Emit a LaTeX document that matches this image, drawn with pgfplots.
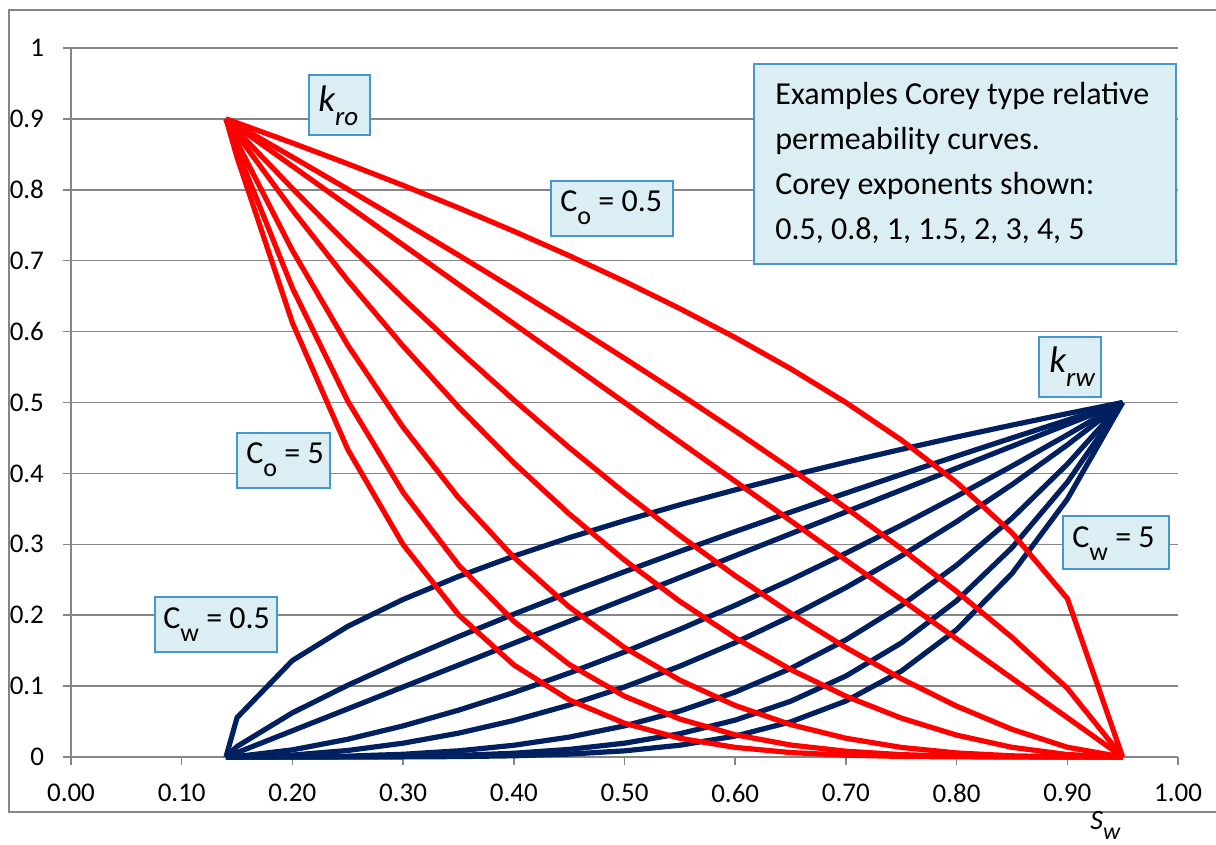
\documentclass[border=0pt]{standalone}
\usepackage{pgfplots}
\usepackage{pgfplotstable}
\pgfplotsset{compat=1.18}
\usepackage{fontspec}
\setmainfont{Carlito}
\definecolor{kred}{RGB}{255,0,0}
\definecolor{knavy}{RGB}{0,32,96}
\definecolor{axgray}{RGB}{134,134,134}
\definecolor{boxfill}{RGB}{219,238,244}
\definecolor{boxline}{RGB}{70,150,210}

% water relative permeability, Corey exponents 0.5 ... 5
\pgfplotstableread{
Sw   c05     c08     c1      c15     c2      c3       c4      c5
0.14 0       0       0       0       0       0        0       0
0.15 0.05556 0.01487 0.00617 0.00069 0.00008 0.000001 0       0
0.20 0.13608 0.06233 0.03704 0.01008 0.00274 0.00020  0.00002 0.000001
0.25 0.18426 0.10123 0.06790 0.02502 0.00922 0.00125  0.00017 0.00002
0.30 0.22222 0.13661 0.09877 0.04390 0.01951 0.00385  0.00076 0.00015
0.35 0.25459 0.16981 0.12963 0.06600 0.03361 0.00871  0.00226 0.00059
0.40 0.28328 0.20145 0.16049 0.09093 0.05152 0.01654  0.00531 0.00170
0.45 0.30932 0.23189 0.19136 0.11838 0.07324 0.02803  0.01073 0.00411
0.50 0.33333 0.26135 0.22222 0.14815 0.09877 0.04390  0.01951 0.00867
0.55 0.35573 0.29001 0.25309 0.18006 0.12811 0.06484  0.03282 0.01661
0.60 0.37680 0.31797 0.28395 0.21398 0.16126 0.09158  0.05201 0.02954
0.65 0.39675 0.34533 0.31481 0.24980 0.19822 0.12480  0.07858 0.04948
0.70 0.41574 0.37216 0.34568 0.28743 0.23899 0.16523  0.11423 0.07897
0.75 0.43390 0.39852 0.37654 0.32677 0.28357 0.21355  0.16082 0.12111
0.80 0.45134 0.42444 0.40741 0.36776 0.33196 0.27049  0.22040 0.17958
0.85 0.46812 0.44998 0.43827 0.41033 0.38416 0.33674  0.29516 0.25872
0.90 0.48432 0.47515 0.46914 0.45443 0.44018 0.41301  0.38751 0.36359
0.95 0.5     0.5     0.5     0.5     0.5     0.5      0.5     0.5
}\krw

% oil relative permeability, Corey exponents 0.5 ... 5
\pgfplotstableread{
Sw   c05     c08     c1      c15     c2      c3      c4      c5
0.14 0.9     0.9     0.9     0.9     0.9     0.9     0.9     0.9
0.15 0.89443 0.89110 0.88889 0.88338 0.87792 0.86708 0.85637 0.84580
0.20 0.86603 0.84626 0.83333 0.80188 0.77161 0.71445 0.66153 0.61253
0.25 0.83666 0.80082 0.77778 0.72304 0.67215 0.58087 0.50199 0.43382
0.30 0.80623 0.75472 0.72222 0.64697 0.57956 0.46508 0.37321 0.29949
0.35 0.77460 0.70791 0.66667 0.57378 0.49383 0.36580 0.27096 0.20071
0.40 0.74162 0.66031 0.61111 0.50357 0.41495 0.28176 0.19132 0.12991
0.45 0.70711 0.61183 0.55556 0.43649 0.34294 0.21169 0.13067 0.08066
0.50 0.67082 0.56237 0.5     0.37268 0.27778 0.15432 0.08573 0.04763
0.55 0.63246 0.51180 0.44444 0.31232 0.21948 0.10838 0.05352 0.02643
0.60 0.59161 0.45995 0.38889 0.25563 0.16804 0.07261 0.03137 0.01356
0.65 0.54772 0.40659 0.33333 0.20286 0.12346 0.04573 0.01694 0.00627
0.70 0.5     0.35140 0.27778 0.15432 0.08573 0.02646 0.00817 0.00252
0.75 0.44721 0.29395 0.22222 0.11042 0.05487 0.01355 0.00335 0.00083
0.80 0.38730 0.23352 0.16667 0.07172 0.03086 0.00572 0.00106 0.00020
0.85 0.31623 0.16883 0.11111 0.03904 0.01372 0.00169 0.00021 0.00003
0.90 0.22361 0.09697 0.05556 0.01380 0.00343 0.00021 0.00001 0.000001
0.95 0       0       0       0       0       0       0       0
}\kro

\begin{document}
\begin{tikzpicture}
\begin{axis}[
  at={(35.5pt,-378.5pt)}, anchor=south west,
  scale only axis, width=553.5pt, height=354.5pt,
  xmin=0, xmax=1, ymin=0, ymax=1,
  axis lines*=left,
  axis line style={axgray, line width=0.75pt},
  tick align=outside, major tick length=4pt,
  tick style={axgray, line width=0.75pt},
  ymajorgrids, major grid style={axgray, line width=0.75pt},
  xtick={0,0.1,0.2,0.3,0.4,0.5,0.6,0.7,0.8,0.9,1},
  ytick={0,0.1,0.2,0.3,0.4,0.5,0.6,0.7,0.8,0.9,1},
  xticklabels={0.00,0.10,0.20,0.30,0.40,0.50,0.60,0.70,0.80,0.90,1.00},
  yticklabels={0,0.1,0.2,0.3,0.4,0.5,0.6,0.7,0.8,0.9,1},
  tick label style={font=\fontsize{13.5}{16}\selectfont, black},
  xticklabel style={yshift=-6pt},
  yticklabel style={xshift=-6pt},
  /pgf/number format/assume math mode=true,
  clip=false,
  every axis plot/.append style={line width=2.6pt, line join=round},
]
\addplot[knavy] table[x=Sw,y=c05]{\krw};
\addplot[knavy] table[x=Sw,y=c08]{\krw};
\addplot[knavy] table[x=Sw,y=c1]{\krw};
\addplot[knavy] table[x=Sw,y=c15]{\krw};
\addplot[knavy] table[x=Sw,y=c2]{\krw};
\addplot[knavy] table[x=Sw,y=c3]{\krw};
\addplot[knavy] table[x=Sw,y=c4]{\krw};
\addplot[knavy] table[x=Sw,y=c5]{\krw};
\addplot[kred] table[x=Sw,y=c05]{\kro};
\addplot[kred] table[x=Sw,y=c08]{\kro};
\addplot[kred] table[x=Sw,y=c1]{\kro};
\addplot[kred] table[x=Sw,y=c15]{\kro};
\addplot[kred] table[x=Sw,y=c2]{\kro};
\addplot[kred] table[x=Sw,y=c3]{\kro};
\addplot[kred] table[x=Sw,y=c4]{\kro};
\addplot[kred] table[x=Sw,y=c5]{\kro};
\end{axis}
\begin{scope}[x=0.5pt,y=-0.5pt]
\useasboundingbox (0,0) rectangle (1216,845);
\draw[axgray, line width=0.75pt] (1240,10) -- (9,10) -- (9,812) -- (1240,812);
\tikzset{lbl/.style={draw=boxline, fill=boxfill, line width=0.75pt},
  txt/.style={anchor=base west, inner sep=0pt, font=\fontsize{16}{19}\selectfont}}
% info box
\filldraw[lbl] (754,64) rectangle (1176,264);
\node[txt] at (775,105) {Examples Corey type relative};
\node[txt] at (775,150) {permeability curves.};
\node[txt] at (775,195) {Corey exponents shown:};
\node[txt] at (775,240) {0.5, 0.8, 1, 1.5, 2, 3, 4, 5};
% k_ro
\filldraw[lbl] (309,75) rectangle (370,135);
\node[txt] at (318,112) {\fontsize{18.5}{20}\selectfont\itshape k\raisebox{-7pt}{\fontsize{13.5}{15}\selectfont ro}};
% k_rw
\filldraw[lbl] (1039,337) rectangle (1101,397);
\node[txt] at (1049,372) {\fontsize{18.5}{20}\selectfont\itshape k\raisebox{-7pt}{\fontsize{13.5}{15}\selectfont rw}};
% C labels
\filldraw[lbl] (551,181) rectangle (673,236);
\node[txt] at (560,212) {C\raisebox{-6.5pt}{\fontsize{13}{14}\selectfont o} = 0.5};
\filldraw[lbl] (237,433) rectangle (330,488);
\node[txt] at (246,463) {C\raisebox{-6.5pt}{\fontsize{13}{14}\selectfont o} = 5};
\filldraw[lbl] (1063,516) rectangle (1169,569);
\node[txt] at (1072,547) {C\raisebox{-6.5pt}{\fontsize{13}{14}\selectfont w} = 5};
\filldraw[lbl] (155,597) rectangle (277,652);
\node[txt] at (163,628) {C\raisebox{-6.5pt}{\fontsize{13}{14}\selectfont w} = 0.5};
% S_w
\node[txt] at (1090,829) {\fontsize{14}{16}\selectfont\itshape S\raisebox{-5pt}{\fontsize{12}{14}\selectfont w}};
\end{scope}
\end{tikzpicture}
\end{document}
